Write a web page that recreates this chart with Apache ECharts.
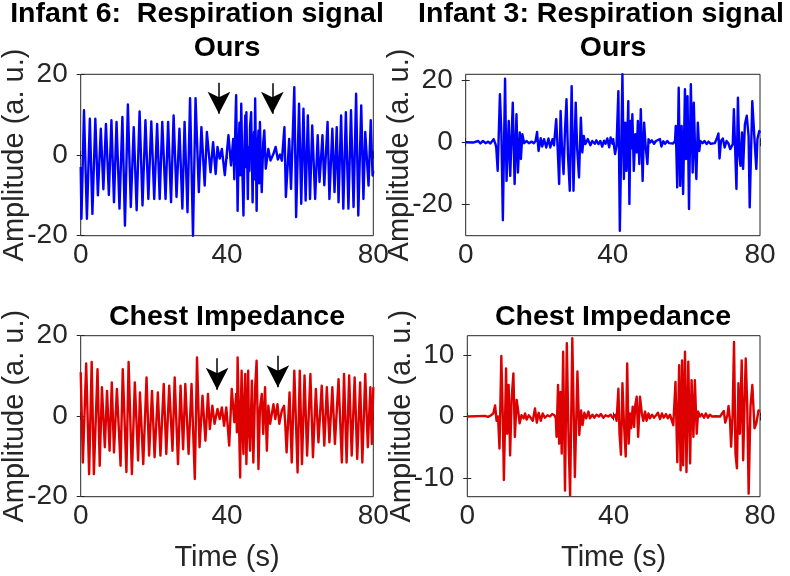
<!DOCTYPE html>
<html>
<head>
<meta charset="utf-8">
<script src="https://cdn.jsdelivr.net/npm/echarts@6/dist/echarts.min.js"></script>
<style>html,body{margin:0;padding:0;background:#fff;}#c{width:790px;height:576px;}</style>
</head>
<body>
<div id="c"></div>
<script>
// ---- Data (time in s, amplitude in a.u.) ----
const xTicks = [0, 40, 80];
const yTicksInfant6 = [-20, 0, 20];
const yTicksInfant3Ours = [-20, 0, 20];
const yTicksInfant3CI = [-10, 0, 10];

// Infant 6, Ours (respiration signal)
const inf6OursT = [0,0.2,0.9,1.7,2.5,3.2,4.0,4.7,5.5,6.2,6.9,7.7,8.4,9.1,9.8,10.6,11.4,12.1,12.9,13.7,14.5,15.3,16.1,16.9,17.7,18.5,19.3,20.1,20.9,21.6,22.3,23.2,23.9,24.7,25.4,26.2,27.0,27.8,28.4,29.2,29.9,30.7,31.4,32.3,33.0,33.9,34.5,35.5,36.2,36.9,37.4,38.0,38.6,39.4,40.4,41.1,41.7,42.0,42.3,42.5,42.9,43.2,43.4,43.6,43.9,44.2,44.5,44.8,45.0,45.15,45.3,45.7,45.9,46.1,46.3,46.6,47.0,47.2,47.4,47.5,47.7,48.1,48.3,48.6,48.8,49.0,49.3,49.5,49.9,50.2,50.6,51.3,51.9,52.7,53.3,53.9,54.5,55.0,55.7,56.1,57.0,57.5,58.4,58.9,59.7,60.3,60.9,61.5,62.1,62.7,63.3,64.1,64.8,65.3,66.1,66.6,67.5,68.0,68.8,69.4,70.0,70.5,71.2,71.8,72.5,73.2,73.9,74.6,75.3,75.9,76.7,77.3,77.8,78.7,79.3,79.8,80];
const inf6OursV = [-3,-15.8,11.1,-15.8,9.0,-14.6,9.0,-10.0,6.5,-8.5,7.7,-9.9,8.6,-11.7,8.2,-13.3,9.4,-17.5,12.5,-12.9,6.9,-13.7,10.8,-12.5,8.6,-10.9,8.3,-10.9,7.7,-10.9,8.2,-10.9,8.2,-11.7,9.8,-10.4,6.5,-13.3,8.2,-14.2,14.1,-20.0,14.1,-9.2,6.9,-7.6,5.7,-4.3,3.2,-4.7,2.0,-0.9,1.5,-5.0,4.9,-2.6,4.0,-6,8,14.8,-13.8,2,8,-5,12.7,-4,-15,3,9.8,-3,10.6,-10.9,2,-4,7,10.6,-11.7,1,5.7,-6,14,-13.8,0,6,-7,8.2,-4,-9.2,3,6.1,-3.4,1.5,-1.4,0.3,2.0,-1.1,0.1,-1.4,6.9,-10.4,4.0,-8.4,16.8,-15.4,12.7,-12.1,11.5,-11.3,9.8,-10.9,7.3,-10.9,4.9,-6.7,4.9,-7.5,8.2,-10.9,6.5,-9.2,6.9,-11.7,9.8,-13.3,10.6,-13.3,11.1,-12.9,15.2,-15.0,12.3,-10.9,5.7,-7.6,8.6,-5.1,-4];

// Infant 3, Ours (respiration signal)
const inf3OursT = [0,2.0,3.4,4.0,4.7,5.4,6.1,6.7,7.6,8.1,8.3,8.7,9.3,9.7,10.1,10.7,11.1,11.7,12.1,12.8,13.3,13.8,14.2,14.7,15.0,15.4,15.9,16.5,17.2,17.9,18.5,19.0,19.4,19.8,20.4,20.8,21.3,21.9,22.5,23.0,23.6,24.0,24.6,25.0,25.4,25.8,26.2,26.6,27.0,27.4,27.8,28.3,28.8,29.3,29.9,30.3,30.8,31.3,31.7,32.1,32.5,33.2,33.9,34.4,35.1,35.5,36.1,36.6,37.1,37.6,38.0,38.5,39.0,39.4,39.9,40.1,40.6,41.0,41.5,41.9,42.6,43.0,43.4,43.7,44.2,44.5,44.8,45.0,45.3,45.7,46.1,46.5,46.8,47.2,47.6,48.1,48.5,48.9,49.4,49.7,50.1,50.6,51.2,51.7,52.2,52.8,53.2,53.7,54.2,54.8,55.3,55.8,56.4,56.9,57.1,57.5,57.9,58.3,58.7,59.1,59.6,59.9,60.3,60.7,61.2,61.7,62.0,62.4,62.7,63.1,63.5,63.8,64.4,64.9,65.5,66.0,66.6,67.1,67.7,68.2,68.7,69.0,69.4,69.9,70.4,70.9,71.4,71.9,72.6,72.9,73.6,74.0,74.4,74.7,75.1,75.4,75.9,76.4,76.9,77.2,77.9,78.5,79.0,79.3,79.8,80];
const inf3OursV = [0,-0.1,0.4,-0.4,0.4,-0.3,0.2,-0.4,1.0,-0.6,-1.7,-9.2,15.4,3.1,-25.0,20.4,-12.4,6.8,-10.8,12.7,-13.4,9.0,-9.7,3.1,-5.4,2.6,-0.3,0.4,-0.3,0.2,-0.3,0.4,3.3,-2.8,1.3,-1.4,1.0,-1.7,1.2,-1.7,1.0,-1.0,7.4,-2,-13.4,10.0,-3,-10.2,4,13.8,-4,-15.6,18.0,-15.6,12.7,-2,-11.3,7.9,-3.3,2.0,-0.6,1.0,-1.0,0.4,-0.5,0.6,-0.6,0.4,-1.4,0.5,-0.5,1.2,-1.6,1.5,-0.5,1.0,-3.8,-1.2,16.4,-28.4,21.8,-11.8,6.3,-9.2,13.2,-19.8,6.8,-2,9.0,-9.2,2.6,-3.3,6.8,-7.0,10.6,-12.4,6.3,-1.2,-7.0,1.0,-0.1,0.6,-0.5,0.4,-0.1,1.0,-1.4,0.3,-0.5,0.4,-0.3,0.1,-0.4,0.4,5.2,-14.5,17.5,-14.0,5.2,-16.6,17.0,-5.4,14.8,-21.4,18.6,-9.7,12.7,-4.4,-11.8,6.3,-2.8,0.4,-0.3,0.4,-0.6,0.2,-0.5,0.1,-0.3,1.0,2.8,-5.2,0.4,1.2,-1.7,0.4,-0.3,-2.2,-0.6,10.6,-15.0,14.3,-4.4,-7.6,3.1,-8.6,5.8,8.5,2.0,-20.9,13.2,1.0,-8.6,1.0,3.6,3];

// Infant 6, Chest impedance
const inf6CiT = [0,0.6,1.5,2.3,3.0,3.6,4.6,5.2,5.8,6.6,7.2,7.9,8.5,9.1,9.9,10.9,11.5,12.5,13.1,14.0,14.8,15.7,16.2,17.1,18.0,18.7,19.5,20.2,21.1,21.8,22.7,23.4,24.2,25.1,25.7,26.6,27.3,28.0,28.6,29.5,30.3,31.2,31.8,32.5,33.3,34.1,34.8,35.3,36.0,36.6,37.4,38.0,38.6,39.2,39.8,40.6,41.3,42.0,42.5,42.7,42.9,43.6,43.8,44.0,44.2,44.5,44.7,45.0,45.15,45.3,45.8,46.0,46.3,46.8,47.0,47.2,47.7,48.1,48.6,49.0,49.5,49.9,50.4,50.9,51.3,51.8,52.7,53.2,53.8,54.3,55.0,55.6,55.9,56.3,57.1,57.7,58.4,59.3,59.9,60.5,61.2,61.9,62.8,63.5,64.3,65.0,65.9,66.6,67.3,68.0,68.8,69.5,70.5,71.4,72.0,72.7,73.4,74.1,74.9,75.6,76.4,77.0,77.8,78.5,79.2,79.6,80.0];
const inf6CiV = [10.9,-11.5,13.1,-14.4,13.5,-14.4,11.7,-12.3,7.2,-7.7,6.3,-8.6,8.4,-9.0,6.8,-12.3,11.7,-13.9,13.5,-14.4,8.4,-11.0,5.9,-11.9,9.6,-9.8,6.3,-10.2,5.9,-9.8,8.0,-9.4,7.6,-8.6,9.6,-11.9,7.6,-8.2,8.0,-9.4,8.0,-15.6,14.6,-7.7,5.1,-6.1,5.5,-3.2,2.6,-1.9,1.8,-0.7,2.2,-2.4,2.2,-7.3,6.8,-1.5,5.5,-4,14.6,-15.2,3,11.3,-2,-9.4,4,10.5,-2,-11.9,11.3,-3,-8.6,8.8,-2,-11.5,7.2,13.8,-13.1,2,5.5,-4.4,7.2,-8.6,2.6,-1.9,3.0,-0.7,3.0,-1.9,1.4,2.6,-1.5,-9.0,5.9,-11.5,11.3,-14.0,11.3,-11.9,10.1,-9.8,10.5,-10.2,6.8,-6.5,7.6,-7.3,7.2,-6.5,7.2,-6.9,9.2,-11.5,10.5,-11.5,10.1,-9.8,9.6,-10.6,8.4,-11.5,10.5,-7.7,7.2,-6.9,7.2];

// Infant 3, Chest impedance
const inf3CiT = [0,4.8,5.7,6.5,7.1,7.6,8.0,8.4,8.8,9.3,9.7,10.0,10.6,10.9,11.3,11.7,12.1,12.6,13.0,13.5,13.9,14.3,14.8,15.4,15.8,16.2,16.8,17.3,17.9,18.5,19.0,19.5,20.1,20.6,21.2,21.9,22.6,23.2,23.8,24.2,24.4,24.8,25.1,25.5,25.8,26.2,26.7,27.2,27.7,28.1,28.7,29.1,29.4,30.1,30.6,31.1,31.5,32.0,32.5,33.1,33.5,34.2,34.7,35.3,36.0,36.5,37.2,37.8,38.5,39.2,39.7,40.4,40.8,41.3,41.6,42.0,42.4,42.8,43.3,43.7,44.1,44.5,44.8,45.2,45.6,45.9,46.3,46.7,47.2,47.7,48.1,48.6,49.0,49.5,49.9,50.5,51.0,51.6,52.1,52.7,53.2,53.7,54.3,54.8,55.4,55.9,56.3,56.9,57.4,57.9,58.3,58.7,59.0,59.5,59.9,60.4,60.9,61.3,61.8,62.2,62.7,63.1,63.6,64.1,64.7,65.2,65.8,66.3,66.9,67.4,68.0,68.5,69.1,69.6,70.1,70.5,71.1,71.4,71.8,72.1,72.5,72.9,73.3,73.7,74.1,74.5,75.0,75.4,75.8,76.1,76.5,76.9,77.4,77.9,78.5,79.0,79.6,80.0];
const inf3CiV = [0,0.1,-0.05,0.2,0.5,1.8,-0.7,0,-5.2,9.8,0,-10.3,7.8,-2.8,5.1,-6.3,2.7,7.0,-3.3,2.7,1.0,-1.1,0.2,-0.3,0.5,-0.5,0.2,-0.2,-0.7,1.3,-1.0,0.6,-0.7,0.5,-0.2,0.2,0,0.4,0.2,-0.3,-3.3,5.1,-4.4,4.0,-6.0,10.5,-12.0,11.9,-4.4,-12.8,12.7,0,-9.8,7.3,-3.0,1.0,-1.4,0.6,-0.3,0.8,-0.3,0.3,-0.2,0.3,0,0.4,-0.2,0.2,0,0.3,-0.2,0.3,-0.7,4.5,-2.8,-6.2,5.4,-0.9,-6.5,8.6,-4.4,0.5,-1.9,1.6,-1.7,1.8,3.2,-3.3,3.2,0.5,-0.7,0.8,-0.7,0.5,-0.3,0.3,-0.2,0.2,0.6,-0.4,0.5,-0.2,0.4,-0.3,0.3,0.05,-1.4,5.6,-7.4,8.3,-8.7,9.1,-7.9,10.5,-9.0,8.9,-7.6,5.9,-3.3,5.9,-2.8,0.8,0,0.4,-0.2,0.5,-0.2,0.3,0,0.3,0.05,0.2,0,0.2,0.9,-1.0,0.2,1.7,-0.6,-4.9,-0.05,12.1,-6.0,-8.4,5.4,-2.8,9.1,-7.1,2.7,9.4,2.1,-12.5,1.6,5.1,-1.9,-1.1,1.0,0.8];

// Arrow annotations (time, amplitude): [x, yStart, yHead]
const arrowsOurs = [[37.8, 17.9, 10.2], [52.4, 17.8, 10.2]];
const arrowsCi = [[37.3, 14.4, 6.6], [53.9, 15.0, 7.2]];

// ---- Chart ----
const FONT = "'Liberation Sans', Arial, Helvetica, sans-serif";
const AX = '#262626';
const TICK_FS = 28, NAME_FS = 29, TITLE_FS = 28.5;
const zip = (T, V) => T.map((t, i) => [t, V[i]]);

const grids = [
  {left: 80.7, top: 74.3, width: 292.6, height: 161.4},
  {left: 465.7, top: 74.3, width: 294.3, height: 161.4},
  {left: 80.7, top: 335.7, width: 292.6, height: 161},
  {left: 467.3, top: 335.7, width: 292.7, height: 161}
];
const yRanges = [[-20, 20, yTicksInfant6], [-30, 21.8, yTicksInfant3Ours], [-20, 20, yTicksInfant6], [-13, 13.1, yTicksInfant3CI]];

const xAxes = [], yAxes = [];
grids.forEach((g, i) => {
  const bottomRow = i >= 2;
  xAxes.push({
    type: 'value', gridIndex: i, min: 0, max: 80, position: 'bottom',
    axisLine: {show: false},
    axisTick: {inside: true, length: 4, lineStyle: {color: AX}, customValues: xTicks},
    axisLabel: {color: AX, fontSize: TICK_FS, fontFamily: FONT, margin: 6, customValues: xTicks},
    splitLine: {show: false},
    name: bottomRow ? 'Time (s)' : '', nameLocation: 'middle', nameGap: 47, nameMoveOverlap: false,
    nameTextStyle: {color: AX, fontSize: NAME_FS, fontFamily: FONT}
  });
  xAxes.push({
    type: 'value', gridIndex: i, min: 0, max: 80, position: 'top',
    axisLine: {show: false},
    axisTick: {inside: true, length: 4, lineStyle: {color: AX}, customValues: xTicks},
    axisLabel: {show: false}, splitLine: {show: false}
  });
  const r = yRanges[i];
  yAxes.push({
    type: 'value', gridIndex: i, min: r[0], max: r[1], position: 'left',
    axisLine: {show: false},
    axisTick: {inside: true, length: 4, lineStyle: {color: AX}, customValues: r[2]},
    axisLabel: {color: AX, fontSize: TICK_FS, fontFamily: FONT, margin: 13, customValues: r[2]},
    splitLine: {show: false},
    name: 'Amplitude (a. u.)', nameLocation: 'middle', nameGap: 51, nameMoveOverlap: false,
    nameTextStyle: {color: AX, fontSize: NAME_FS, fontFamily: FONT}
  });
  yAxes.push({
    type: 'value', gridIndex: i, min: r[0], max: r[1], position: 'right',
    axisLine: {show: false},
    axisTick: {inside: true, length: 4, lineStyle: {color: AX}, customValues: r[2]},
    axisLabel: {show: false}, splitLine: {show: false}
  });
});

function arrowMark(list) {
  return {
    silent: true, symbol: ['none', 'arrow'], symbolSize: [17, 22],
    label: {show: false},
    lineStyle: {color: '#000', width: 1.5, type: 'solid'},
    itemStyle: {color: '#000'},
    emphasis: {disabled: true},
    data: list.map(a => [{coord: [a[0], a[1]]}, {coord: [a[0], a[2]]}])
  };
}

const BLUE = '#0000ff', RED = '#dd0000';
const mkSeries = (idx, data, color, mark) => ({
  type: 'line', xAxisIndex: idx * 2, yAxisIndex: idx * 2, data: data,
  showSymbol: false, symbol: 'none', animation: false,
  lineStyle: {color: color, width: 2.4, join: 'round'}, itemStyle: {color: color},
  markLine: mark ? arrowMark(mark) : undefined
});

const titleStyle = (text, x, y) => ({
  type: 'text', x: x, y: y,
  style: {text: text, fill: '#000', font: 'bold ' + TITLE_FS + 'px ' + FONT, textAlign: 'center', textVerticalAlign: 'middle'}
});

const chart = echarts.init(document.getElementById('c'), null, {renderer: 'canvas'});
chart.setOption({
  animation: false,
  backgroundColor: '#fff',
  grid: grids.map(g => Object.assign({show: true, borderColor: AX, borderWidth: 1, backgroundColor: 'transparent', containLabel: false, outerBoundsMode: 'none'}, g)),
  xAxis: xAxes,
  yAxis: yAxes,
  series: [
    mkSeries(0, zip(inf6OursT, inf6OursV), BLUE, arrowsOurs),
    mkSeries(1, zip(inf3OursT, inf3OursV), BLUE, null),
    mkSeries(2, zip(inf6CiT, inf6CiV), RED, arrowsCi),
    mkSeries(3, zip(inf3CiT, inf3CiV), RED, null)
  ],
  graphic: [
    titleStyle('Infant 6:  Respiration signal', 197, 14),
    titleStyle('Ours', 227, 48),
    titleStyle('Infant 3: Respiration signal', 601, 14),
    titleStyle('Ours', 613, 48),
    titleStyle('Chest Impedance', 227, 317),
    titleStyle('Chest Impedance', 613, 317)
  ]
});
</script>
</body>
</html>
